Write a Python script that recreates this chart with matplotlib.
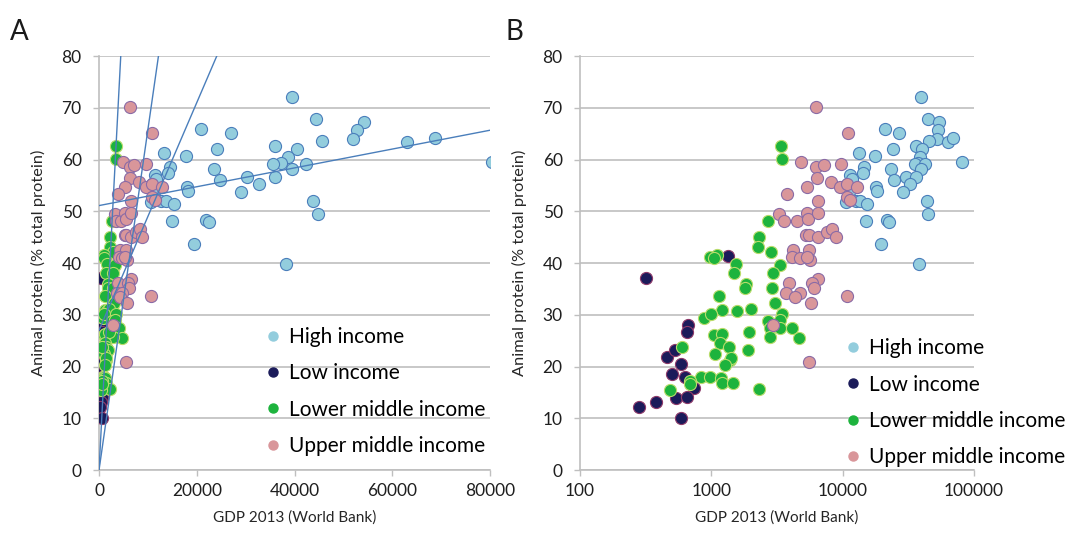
import numpy as np
import matplotlib
matplotlib.use("Agg")
import matplotlib.pyplot as plt
from matplotlib.ticker import FixedLocator, FuncFormatter, NullLocator

plt.rcParams['font.family'] = ['Lato', 'DejaVu Sans']

# GDP 2013 (World Bank, US$) and animal protein share (% of total protein)
high_gdp = [39400, 44300, 54300, 52800, 51900, 45600, 63000, 68700, 20900, 26900,
            36100, 40500, 24200, 13300, 17700, 80500, 38700, 37200, 35500, 42300,
            39400, 14500, 14200, 23500, 11400, 24700, 30300, 36100, 32700, 29000,
            17900, 18200, 10900, 11400, 10600, 12600, 13600, 15400, 43800, 44800,
            15000, 21900, 22400, 19500, 38300, 11700]
high_prot = [72.0, 67.8, 67.3, 65.7, 64.0, 63.6, 63.4, 64.1, 65.8, 65.1,
             62.7, 62.0, 62.1, 61.3, 60.7, 59.5, 60.4, 59.3, 59.1, 59.1,
             58.1, 58.5, 57.3, 58.1, 57.0, 56.0, 56.6, 56.6, 55.3, 53.7,
             54.6, 54.0, 55.3, 54.1, 51.7, 52.0, 51.9, 51.4, 52.0, 49.5,
             48.1, 48.4, 47.9, 43.7, 39.9, 56.3]

low_gdp = [317, 1340, 659, 652, 459, 531, 587, 501, 634, 733, 541, 652, 380, 282, 590]
low_prot = [37.2, 41.4, 28.0, 26.6, 21.8, 23.2, 20.5, 18.5, 18.0, 15.8, 14.0, 14.2, 13.1, 12.2, 10.1]

lmid_gdp = [3400, 3460, 2710, 2300, 2270, 2870, 983, 1100, 1050, 1550,
            1480, 3360, 2960, 1840, 1820, 2900, 1150, 3030, 1210, 1570,
            1990, 874, 1000, 3460, 2690, 3320, 2790, 3320, 4080, 4640,
            2790, 1040, 1210, 1950, 1160, 1360, 1890, 1070, 1380, 1420,
            1260, 597, 839, 971, 1190, 1210, 1460, 2300, 486, 683, 690]
lmid_prot = [62.6, 60.1, 48.1, 45.1, 43.0, 42.1, 41.2, 41.5, 40.9, 39.9,
             38.1, 39.6, 38.0, 35.9, 35.1, 35.2, 33.6, 32.2, 31.0, 30.8,
             31.2, 29.3, 30.1, 30.1, 28.7, 29.0, 27.4, 27.4, 27.4, 25.6,
             25.8, 26.0, 26.3, 26.7, 24.5, 23.7, 23.2, 22.4, 21.3, 21.6,
             20.3, 23.8, 17.9, 18.0, 17.8, 16.9, 16.9, 15.7, 15.5, 17.2, 16.6]

umid_gdp = [6300, 10900, 4830, 6260, 7210, 9650, 6410, 8090, 5380, 9540,
            10860, 12800, 3780, 6480, 10800, 11400, 3270, 3570, 4510, 5380,
            5420, 6480, 5220, 5580, 6480, 7550, 8340, 8850, 4200, 5530,
            4130, 4700, 5630, 5380, 3890, 6480, 5870, 6040, 3670, 4730,
            4300, 5770, 10700, 2960, 5570]
umid_prot = [70.1, 65.2, 59.5, 58.6, 58.9, 59.1, 56.4, 55.7, 54.6, 54.6,
             55.3, 54.6, 53.3, 52.0, 52.8, 52.2, 49.4, 48.1, 48.2, 49.7,
             48.6, 49.6, 45.5, 45.4, 45.1, 45.9, 46.5, 45.1, 42.6, 42.6,
             41.1, 40.9, 40.6, 41.1, 36.1, 36.9, 36.2, 35.1, 34.3, 34.3,
             33.4, 32.3, 33.7, 28.1, 20.9]

# linear trendlines shown in panel A (high, low, lower middle, upper middle)
trend_slope = [0.000182, 0.018, 0.00658, 0.0022]
trend_icpt = [51.1, 0.0, 0.0, 27.0]

groups = [
    ("High income", high_gdp, high_prot, "#93CDDD", "#4A7EBB"),
    ("Low income", low_gdp, low_prot, "#1B1B5A", "#8E3A6A"),
    ("Lower middle income", lmid_gdp, lmid_prot, "#1DB33D", "#B9DC6A"),
    ("Upper middle income", umid_gdp, umid_prot, "#D9969A", "#8A6BA6"),
]

grey = "#BFBFBF"
fig = plt.figure(figsize=(10.66, 5.36), dpi=100)
ax_a = fig.add_axes([0.0929, 0.1231, 0.3668, 0.7724])
ax_b = fig.add_axes([0.5441, 0.1231, 0.3696, 0.7724])

legend_pos = {ax_a: (0.419, 0.345), ax_b: (0.667, 0.318)}

for ax in (ax_a, ax_b):
    for name, gx, gy, fc, ec in groups:
        ax.scatter(gx, gy, s=76, c=fc, edgecolors=ec, linewidths=0.8, zorder=3)
        ax.plot([], [], 'o', ms=6.5, color=fc, label=name)
    ax.set_ylim(0, 80)
    ax.set_yticks(range(0, 81, 10))
    ax.grid(axis='y', color=grey, lw=1.2, zorder=0)
    for side in ('top', 'right'):
        ax.spines[side].set_visible(False)
    for side in ('left', 'bottom'):
        ax.spines[side].set_color(grey)
        ax.spines[side].set_linewidth(1.2)
    ax.tick_params(direction='out', length=4.5, width=1.0, color=grey,
                   labelsize=12.5, labelcolor='#1f1f1f')
    ax.tick_params(axis='y', pad=8)
    ax.tick_params(axis='x', pad=5)
    ax.set_ylabel("Animal protein (% total protein)", fontsize=11.8, color='#262626', labelpad=11)
    ax.set_xlabel("GDP 2013 (World Bank)", fontsize=11, color='#262626', labelpad=8)
    ax.legend(loc='upper left', bbox_to_anchor=legend_pos[ax], frameon=False,
              fontsize=15, handletextpad=0.25, labelspacing=0.78, handlelength=1.0,
              borderaxespad=0, borderpad=0)

# panel A: linear GDP axis with trendlines
ax_a.set_xlim(0, 80000)
ax_a.set_xticks(range(0, 80001, 20000))
xs = np.linspace(0, 82000, 500)
for m, c in zip(trend_slope, trend_icpt):
    ax_a.plot(xs, m * xs + c, color="#4A7EBB", lw=1.0, zorder=4)

# panel B: log GDP axis
ax_b.set_xscale('log')
ax_b.set_xlim(100, 100000)
ax_b.xaxis.set_major_locator(FixedLocator([100, 1000, 10000, 100000]))
ax_b.xaxis.set_minor_locator(NullLocator())
ax_b.xaxis.set_major_formatter(FuncFormatter(lambda v, p: f"{v:.0f}"))

fig.text(0.009, 0.925, "A", fontsize=20, color='#1a1a1a')
fig.text(0.474, 0.925, "B", fontsize=20, color='#1a1a1a')

fig.savefig("out.png", dpi=100)
